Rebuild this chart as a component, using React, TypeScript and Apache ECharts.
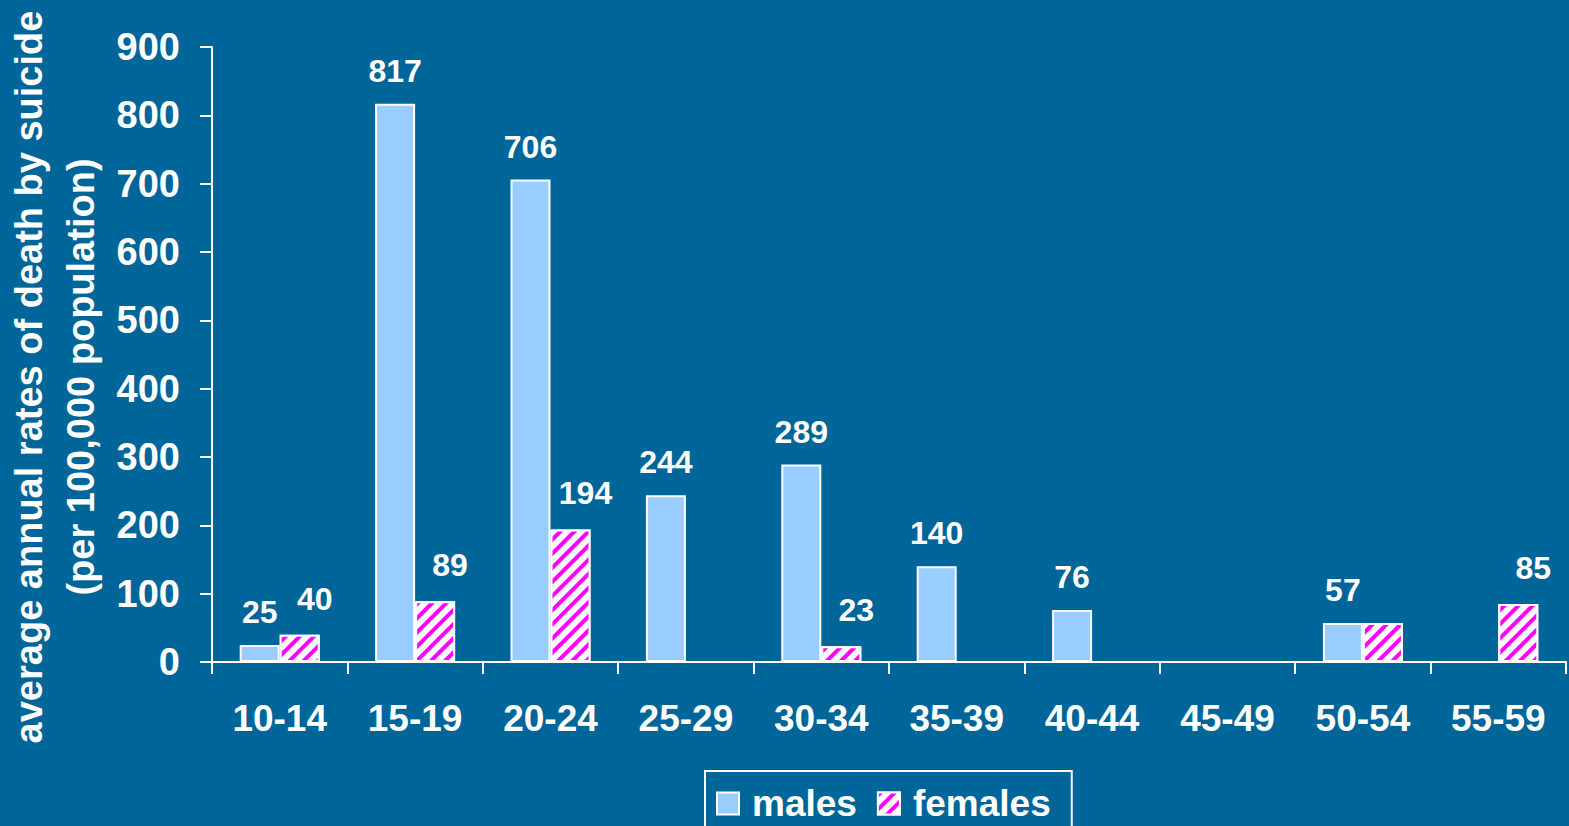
import React, { useEffect, useRef } from "react";
import * as echarts from "echarts";

const categories = ["10-14", "15-19", "20-24", "25-29", "30-34", "35-39", "40-44", "45-49", "50-54", "55-59"];
const maleValues: (number | null)[] = [25, 817, 706, 244, 289, 140, 76, null, 57, null];
const femaleValues: (number | null)[] = [40, 89, 194, null, 23, null, null, null, 57, 85];
const femaleHiddenLabels = ["50-54"];
const yTicks = { min: 0, max: 900, interval: 100 };
const titleLine1 = "average annual rates of death by suicide";
const titleLine2 = "(per 100,000 population)";

const FONT = '"Liberation Sans", Arial, sans-serif';

export default function App() {
  const ref = useRef<HTMLDivElement>(null);
  useEffect(() => {
    if (!ref.current) return;
    const chart = echarts.init(ref.current, null, { renderer: "svg" });
    const femaleData = femaleValues.map((v, i) =>
      femaleHiddenLabels.includes(categories[i]) ? { value: v, label: { show: false } } : v
    );
    const labelBase = {
      show: true,
      position: "top",
      color: "#ffffff",
      fontSize: 32,
      fontWeight: "bold",
      fontFamily: FONT,
    };
    chart.setOption({
      animation: false,
      backgroundColor: "#006699",
      textStyle: { fontFamily: FONT },
      grid: { left: 212, right: 3, top: 47, bottom: 164, containLabel: false },
      legend: {
        left: 705,
        top: 771,
        borderColor: "#ffffff",
        borderWidth: 2,
        padding: [14, 21, 30, 11],
        itemWidth: 22,
        itemHeight: 22,
        itemGap: 20,
        icon: "rect",
        textStyle: { color: "#ffffff", fontSize: 37, fontWeight: "bold", fontFamily: FONT, padding: [0, 0, 0, 8] },
        data: ["males", "females"],
      },
      xAxis: {
        type: "category",
        data: categories,
        axisLine: { lineStyle: { color: "#ffffff", width: 2 } },
        axisTick: { show: true, length: 12, lineStyle: { color: "#ffffff", width: 2 } },
        axisLabel: { color: "#ffffff", fontSize: 37, fontWeight: "bold", fontFamily: FONT, margin: 38, interval: 0 },
        splitLine: { show: false },
      },
      yAxis: {
        type: "value",
        min: yTicks.min,
        max: yTicks.max,
        interval: yTicks.interval,
        axisLine: { show: true, lineStyle: { color: "#ffffff", width: 2 } },
        axisTick: { show: true, length: 12, lineStyle: { color: "#ffffff", width: 2 } },
        axisLabel: { color: "#ffffff", fontSize: 38, fontWeight: "bold", fontFamily: FONT, margin: 32 },
        splitLine: { show: false },
      },
      series: [
        {
          name: "males",
          type: "bar",
          data: maleValues,
          barWidth: 40,
          barGap: "0%",
          itemStyle: { color: "#99ccff", borderColor: "#ffffff", borderWidth: 2 },
          label: { ...labelBase, distance: 17 },
        },
        {
          name: "females",
          type: "bar",
          data: femaleData,
          barWidth: 40,
          barGap: "0%",
          itemStyle: {
            color: "#ffffff",
            borderColor: "#ffffff",
            borderWidth: 2,
            decal: {
              symbol: "rect",
              symbolSize: 1,
              color: "#ff00ff",
              dashArrayX: [1, 0],
              dashArrayY: [4, 6],
              rotation: -Math.PI / 4,
            },
          },
          label: { ...labelBase, distance: 20, offset: [15, 0] },
        },
      ],
      graphic: [
        {
          type: "text",
          x: 29,
          y: 377,
          rotation: Math.PI / 2,
          style: {
            text: titleLine1,
            fill: "#ffffff",
            font: `bold 38px ${FONT}`,
            textAlign: "center",
            textVerticalAlign: "middle",
          },
        },
        {
          type: "text",
          x: 81,
          y: 377,
          rotation: Math.PI / 2,
          style: {
            text: titleLine2,
            fill: "#ffffff",
            font: `bold 38px ${FONT}`,
            textAlign: "center",
            textVerticalAlign: "middle",
          },
        },
      ],
    });
    return () => chart.dispose();
  }, []);
  return (
    <div
      ref={ref}
      style={{ position: "fixed", left: 0, top: 0, width: 1569, height: 826 }}
    />
  );
}
